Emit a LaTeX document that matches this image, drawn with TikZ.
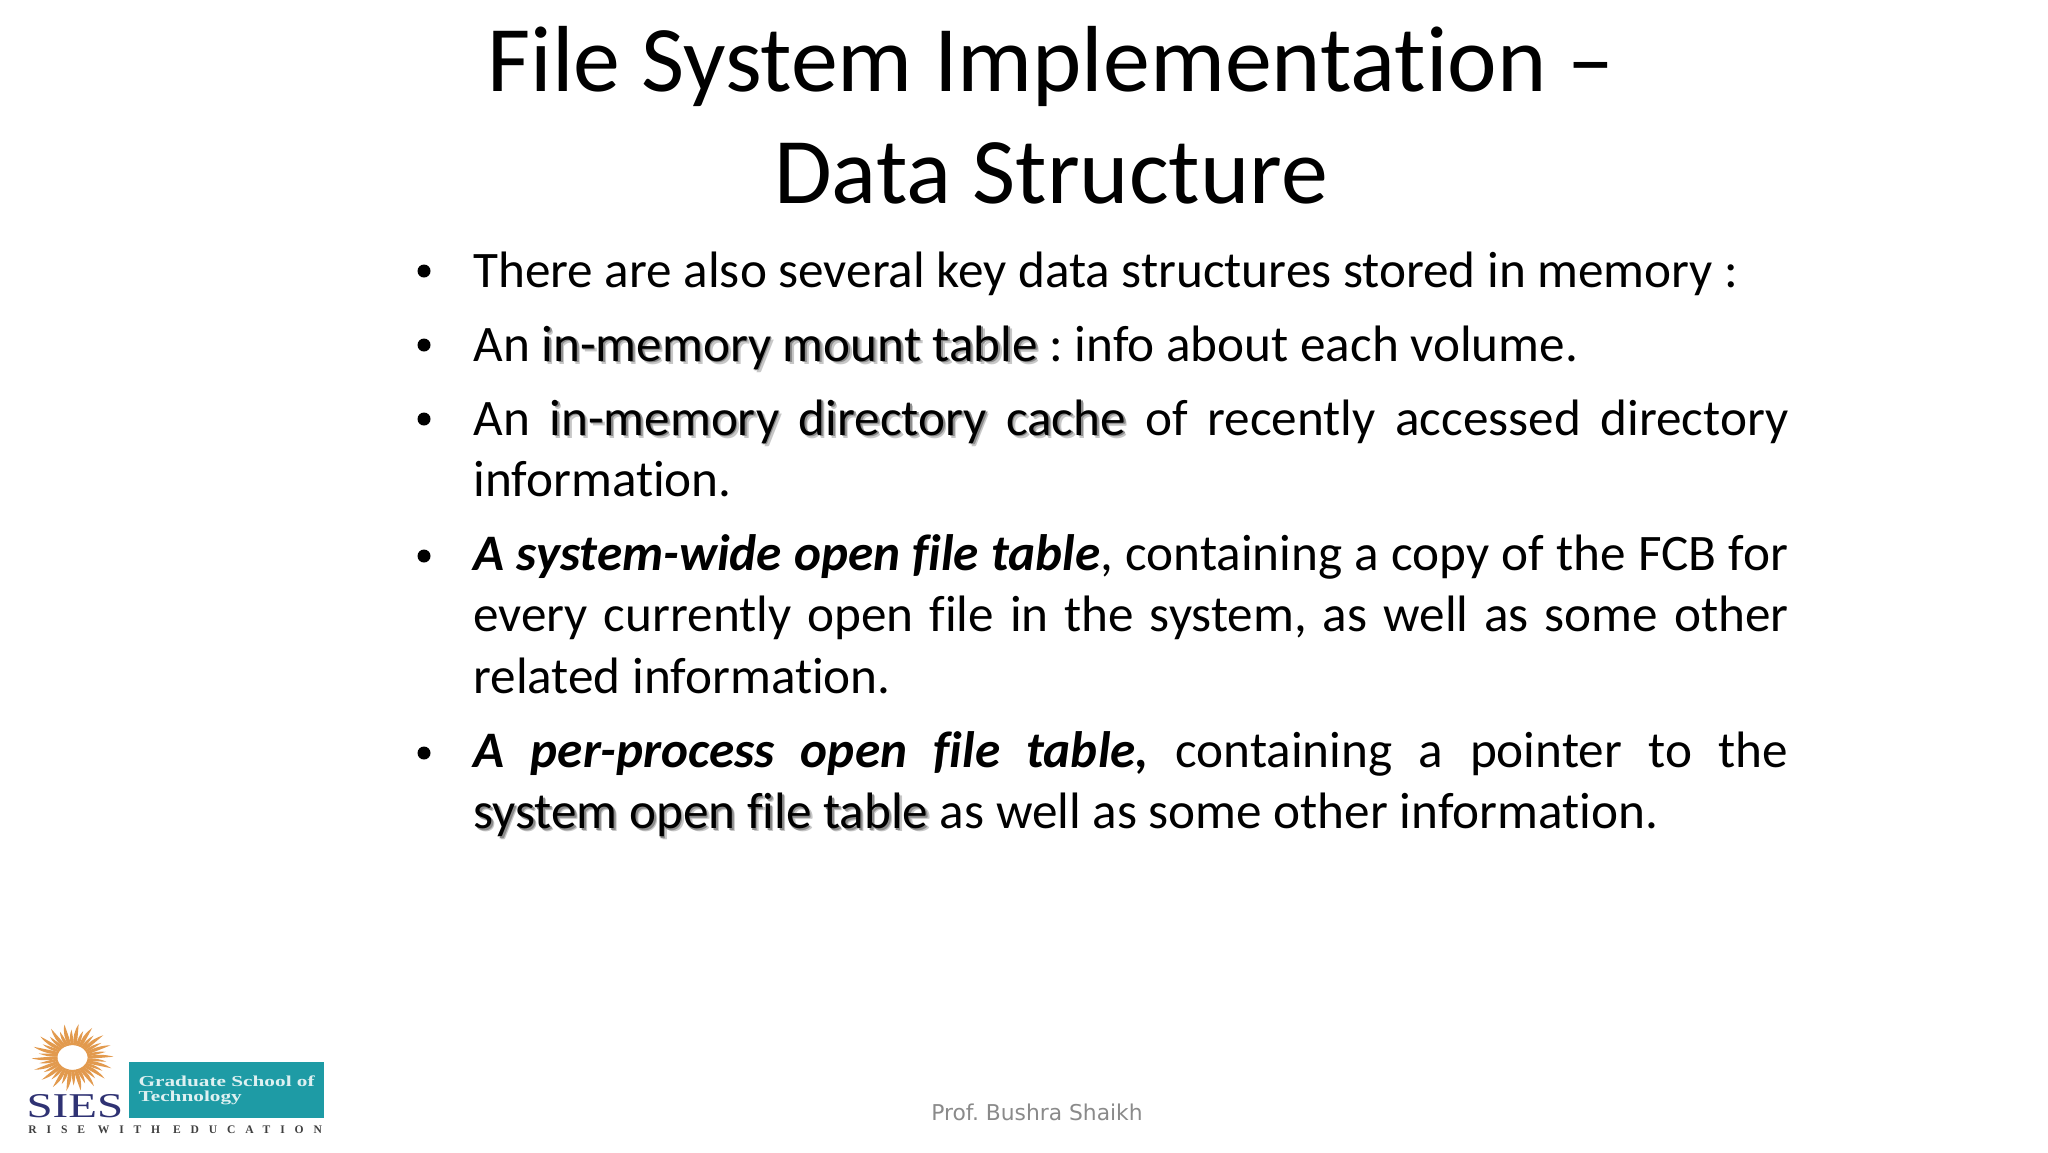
\documentclass[tikz,border=0pt]{standalone}
\usepackage{fontspec}
\setmainfont{Carlito}[Ligatures=NoCommon]
\newfontfamily\logofont{Liberation Serif}
\newfontfamily\logospaced[LetterSpace=85]{Liberation Serif}
\newfontfamily\footfont{DejaVu Sans}
\usetikzlibrary{positioning}
\definecolor{sunorange}{HTML}{E29A4E}
\definecolor{logoteal}{HTML}{1E9BA5}
\definecolor{logonavy}{HTML}{2F3273}
\definecolor{footgray}{HTML}{8A8A8A}
\frenchspacing
% word with the soft shadow of the slide
\newcommand{\shadeword}[1]{\leavevmode\rlap{\kern1.6pt\raisebox{-1.6pt}{\textcolor{black!22}{#1}}}\rlap{\kern0.9pt\raisebox{-0.9pt}{\textcolor{black!45}{#1}}}#1}
\tikzset{
    titletxt/.style={anchor=base, align=center, font=\fontsize{46.93}{56}\selectfont},
    bodytxt/.style={anchor=base west, inner sep=0pt, text width=657.5pt, align=justify, font=\fontsize{25.6}{30.85}\selectfont},
    bulletdot/.style={circle, fill=black, inner sep=0pt, minimum size=6.5pt},
}
\begin{document}
\begin{tikzpicture}[x=0.5pt,y=-0.5pt]
    \useasboundingbox (0,0) rectangle (2048,1152);

    % Title
    \node[titletxt] (titleone) at (1051,91) {File System Implementation --};
    \node[titletxt] (titletwo) at (1051,203) {Data Structure};

    % Bullets
    \node[bulletdot] (dotone) at (424,271) {};
    \node[bodytxt] (itemone) at (473,287) {There are also several key data structures stored in memory :};
    \node[bulletdot] (dottwo) at (424,345) {};
    \node[bodytxt] (itemtwo) at (473,361) {An \shadeword{in-memory} \shadeword{mount} \shadeword{table} : info about each volume.};
    \node[bulletdot] (dotthree) at (424,419) {};
    \node[bodytxt] (itemthree) at (473,435) {An \shadeword{in-memory} \shadeword{directory} \shadeword{cache} of recently accessed directory\linebreak information.};
    \node[bulletdot] (dotfour) at (424,556) {};
    \node[bodytxt] (itemfour) at (473,570) {\textbf{\textit{A system-wide open file table}}, containing a copy of the FCB for\linebreak every currently open file in the system, as well as some other\linebreak related information.};
    \node[bulletdot] (dotfive) at (424,753) {};
    \node[bodytxt] (itemfive) at (473,767) {\textbf{\textit{A per-process open file table,}} containing a pointer to the\linebreak \shadeword{system} \shadeword{open} \shadeword{file} \shadeword{table} as well as some other information.};

    % Footer
    \node[anchor=base, inner sep=0pt, text=footgray, font=\footfont\fontsize{10.9}{14}\selectfont] (footer) at (1037,1120.5) {Prof. Bushra Shaikh};

    % Logo: sun
    \begin{scope}[shift={(72.5,1057.5)}, yscale=0.82]
    \foreach \ang in {0,20,...,340} {
        \fill[sunorange, rotate=\ang]
            (15,-1.5) .. controls (24,-4) and (32,-4) .. (41,-1)
            .. controls (32,0) and (24,1) .. (15,1.5) -- cycle;
        \fill[sunorange, rotate=\ang+10]
            (15,-1.5) .. controls (22,-3) and (28,-3) .. (34,-1)
            .. controls (28,0) and (22,1) .. (15,1.5) -- cycle;
    }
    \end{scope}
    % Logo: letters and box
    \node[anchor=base west, inner sep=0pt, xscale=1.35, text=logonavy, font=\logofont\fontsize{17.4}{18}\selectfont] (sies) at (26,1117) {SIES};
    \node[anchor=base west, inner sep=0pt, font=\logospaced\fontsize{5.8}{6}\bfseries\selectfont, text=black!75] (rise) at (28,1133) {RISE WITH EDUCATION};
    \node[anchor=north west, inner sep=0pt, minimum width=97.5pt, minimum height=28pt, fill=logoteal] (tealbox) at (129,1062) {};
    \node[anchor=north west, inner sep=0pt, xscale=1.4, align=left, text=white!85!logoteal, font=\logofont\bfseries\fontsize{7.6}{7.6}\selectfont] (school) at (138,1075) {Graduate School of\\Technology};
\end{tikzpicture}
\end{document}
